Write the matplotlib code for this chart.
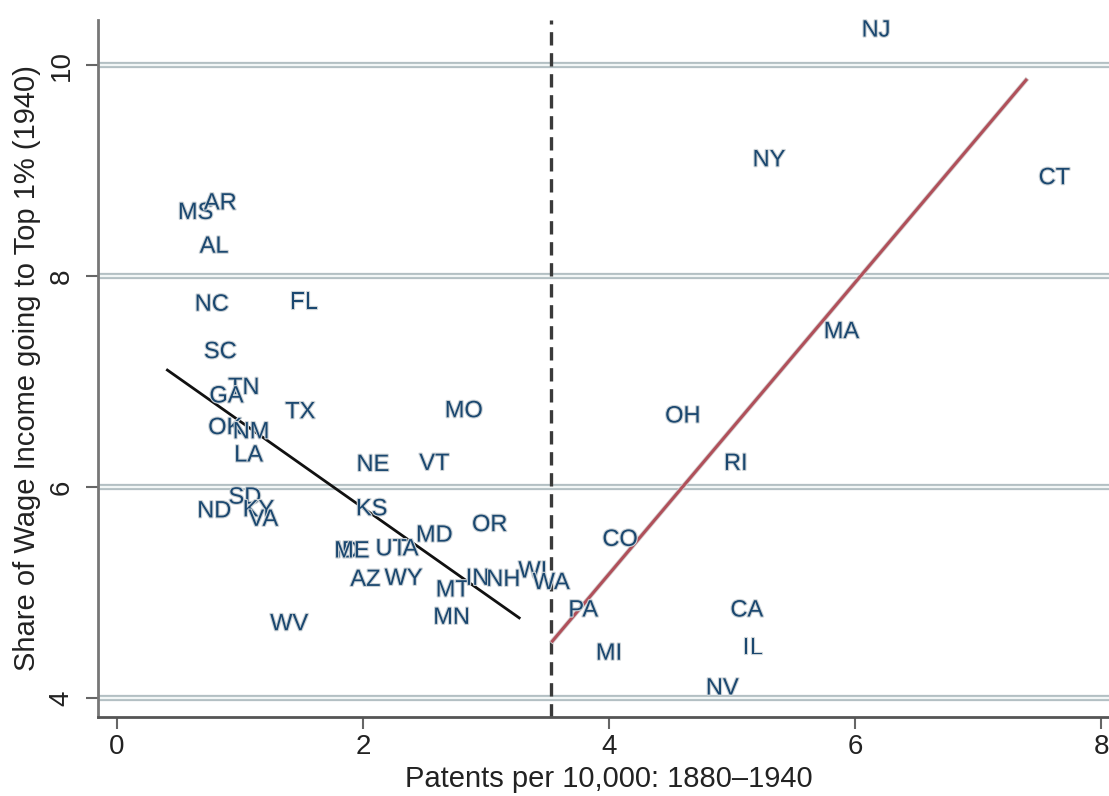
import matplotlib.pyplot as plt
import matplotlib.patheffects as pe

# patents per 10,000 people (1880-1940) and top 1% wage share in 1940
states = ["NJ", "NY", "CT", "MA", "OH", "RI", "CO", "PA", "MI", "CA", "IL", "NV",
          "MS", "AR", "AL", "NC", "FL", "SC", "TN", "GA", "TX", "OK", "NM", "LA",
          "NE", "VT", "MO", "SD", "KY", "ND", "VA", "KS", "MD", "OR", "ID", "ME",
          "UT", "IA", "AZ", "WY", "MT", "MN", "IN", "NH", "WI", "WA", "WV"]
patentes = [6.17, 5.30, 7.62, 5.89, 4.60, 5.03, 4.09, 3.79, 4.00, 5.12, 5.17, 4.92,
            0.64, 0.84, 0.79, 0.77, 1.52, 0.84, 1.03, 0.89, 1.49, 0.88, 1.09, 1.07,
            2.08, 2.58, 2.82, 1.04, 1.15, 0.79, 1.19, 2.07, 2.58, 3.03, 1.87, 1.91,
            2.23, 2.36, 2.02, 2.33, 2.73, 2.72, 2.93, 3.14, 3.38, 3.53, 1.40]
top1 = [10.33, 9.10, 8.93, 7.47, 6.67, 6.22, 5.50, 4.83, 4.42, 4.83, 4.47, 4.09,
        8.60, 8.69, 8.28, 7.73, 7.75, 7.28, 6.94, 6.86, 6.71, 6.56, 6.52, 6.30,
        6.21, 6.22, 6.72, 5.90, 5.78, 5.77, 5.69, 5.79, 5.54, 5.64, 5.39, 5.39,
        5.41, 5.41, 5.12, 5.13, 5.02, 4.76, 5.13, 5.12, 5.20, 5.09, 4.70]

# linear fits below and above the cutoff
corte = 3.53
fit_baixo_x = [0.41, 3.27]
fit_baixo_y = [7.11, 4.76]
fit_alto_x = [3.54, 7.39]
fit_alto_y = [4.54, 9.86]

plt.rcParams['font.family'] = ['Liberation Sans', 'DejaVu Sans']

fig = plt.figure(figsize=(11.09, 7.96), dpi=100)
ax = fig.add_axes([98 / 1109, 79 / 796, 1022 / 1109, 697 / 796])

# stata style double grid lines
for y in [4, 6, 8, 10]:
    ax.axhline(y, color='#b3bfc3', lw=4.5, zorder=1)
    ax.axhline(y, color='#f2f6f6', lw=1.6, zorder=1)

ax.axvline(corte, color='#3a3a3a', lw=2.4, dashes=(4, 2.3), zorder=2)
ax.plot(fit_baixo_x, fit_baixo_y, color='#111111', lw=2, zorder=3)
ax.plot(fit_alto_x, fit_alto_y, color='#b0505a', lw=2.2, zorder=3,
        path_effects=[pe.withStroke(linewidth=3.4, foreground='#d5cfd0')])

halo = [pe.withStroke(linewidth=1.6, foreground='#ccd2d6')]
for s, x, y in zip(states, patentes, top1):
    ax.text(x, y, s, color='#1a476f', fontsize=17, ha='center', va='center',
            zorder=4, path_effects=halo)

ax.set_xlim(-0.154, 8.154)
ax.set_ylim(3.82, 10.43)
ax.set_xticks([0, 2, 4, 6, 8])
ax.set_yticks([4, 6, 8, 10])

for lado in ['top', 'right']:
    ax.spines[lado].set_visible(False)
ax.spines['left'].set_color('#777777')
ax.spines['bottom'].set_color('#555555')
ax.spines['left'].set_linewidth(2)
ax.spines['bottom'].set_linewidth(2)

ax.tick_params(axis='x', length=8.5, width=1.5, color='#666666', pad=4,
               labelsize=20, labelcolor='#222222')
ax.tick_params(axis='y', length=9, width=1.5, color='#666666', pad=8,
               labelsize=20, labelcolor='#222222')
for t in ax.get_yticklabels():
    t.set_rotation(90)
    t.set_va('center')

ax.set_xlabel("Patents per 10,000: 1880\u20131940", fontsize=21, color='#222222', labelpad=3)
ax.set_ylabel("Share of Wage Income going to Top 1% (1940)", fontsize=21,
              color='#222222', labelpad=5)

fig.savefig('out.png', dpi=100)
